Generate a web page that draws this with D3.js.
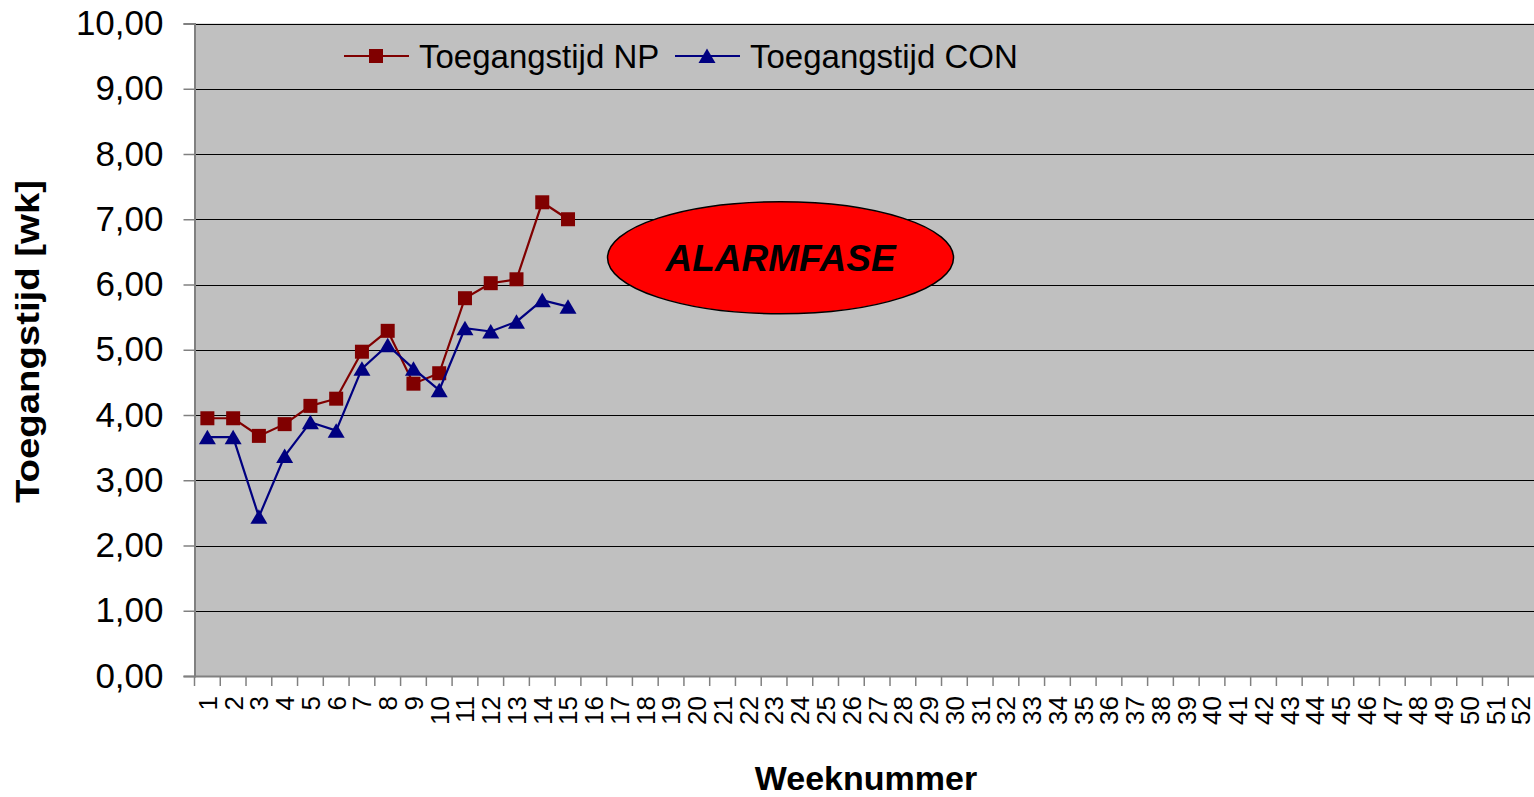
<!DOCTYPE html>
<html>
<head>
<meta charset="utf-8">
<script src="https://cdn.jsdelivr.net/npm/d3@7"></script>
<style>
  body { margin: 0; background: #fff; }
  svg { display: block; font-family: "Liberation Sans", Arial, sans-serif; }
</style>
</head>
<body>
<div class="chart"></div>
<script>
// Toegangstijd per week, NP vs CON

var weeks = d3.range(1, 53).map(String);
var npValues = [3.95, 3.95, 3.68, 3.86, 4.14, 4.25, 4.97, 5.29, 4.48, 4.64, 5.79, 6.02, 6.08, 7.26, 7.00];
var conValues = [3.66, 3.66, 2.44, 3.37, 3.89, 3.76, 4.71, 5.07, 4.71, 4.38, 5.33, 5.28, 5.43, 5.76, 5.66];
var yTicks = [0, 1, 2, 3, 4, 5, 6, 7, 8, 9, 10];
var seriesNames = ["Toegangstijd NP", "Toegangstijd CON"];
var alarmLabel = "ALARMFASE";

var width = 1534,
	height = 797,
	margin = {top: 23.5, right: 0, bottom: 121, left: 194.5};

var svg = d3.select(".chart").append("svg")
	.attr("width", width)
	.attr("height", height);

var x = d3.scaleBand().domain(weeks).range([margin.left, width - margin.right]),
	y = d3.scaleLinear().domain([0, 10]).range([height - margin.bottom, margin.top]);

var nl = d3.formatLocale({decimal: ",", thousands: ".", grouping: [3], currency: ["€", ""]});
var fmt = nl.format(".2f");

// plot background
svg.append("rect")
	.attr("x", margin.left)
	.attr("y", margin.top)
	.attr("width", width - margin.left - margin.right)
	.attr("height", y(0) - margin.top)
	.attr("fill", "#c0c0c0");

// gridlines
svg.append("g")
	.selectAll("line")
	.data(yTicks.slice(1))
	.enter().append("line")
		.attr("x1", margin.left)
		.attr("x2", width)
		.attr("y1", function(d) { return Math.round(y(d)) + 0.5; })
		.attr("y2", function(d) { return Math.round(y(d)) + 0.5; })
		.attr("stroke", "#000")
		.attr("stroke-width", 1.2);

// y axis
var yAxis = svg.append("g")
	.attr("transform", "translate(" + margin.left + ",0)")
	.call(d3.axisLeft(y).tickValues(yTicks).tickFormat(fmt).tickSize(11).tickPadding(20));
yAxis.select(".domain").attr("stroke", "#808080").attr("stroke-width", 2);
yAxis.selectAll(".tick line").attr("stroke", "#808080").attr("stroke-width", 1.5);
yAxis.selectAll("text")
	.style("font-size", "35px")
	.attr("fill", "#000");

// x axis labels
var xAxis = svg.append("g")
	.attr("transform", "translate(0," + y(0) + ")")
	.call(d3.axisBottom(x).tickSize(0).tickSizeOuter(0));
xAxis.select(".domain").attr("stroke", "#808080").attr("stroke-width", 2);
xAxis.selectAll("text")
	.attr("transform", "rotate(-90)")
	.attr("x", -20)
	.attr("y", 0)
	.attr("dy", "0.36em")
	.style("text-anchor", "end")
	.style("font-size", "26px")
	.attr("fill", "#000");

// x tick marks at week boundaries
svg.append("g")
	.selectAll("line")
	.data(weeks)
	.enter().append("line")
		.attr("x1", function(d) { return x(d); })
		.attr("x2", function(d) { return x(d); })
		.attr("y1", y(0))
		.attr("y2", y(0) + 10)
		.attr("stroke", "#808080")
		.attr("stroke-width", 1.5);

// axis titles
svg.append("text")
	.attr("transform", "translate(27,341.5) rotate(-90)")
	.attr("dy", "0.35em")
	.attr("textLength", 323)
	.attr("lengthAdjust", "spacingAndGlyphs")
	.style("text-anchor", "middle")
	.style("font-weight", "bold")
	.style("font-size", "34px")
	.text("Toegangstijd [wk]");

svg.append("text")
	.attr("x", 866)
	.attr("y", 790)
	.style("text-anchor", "middle")
	.style("font-weight", "bold")
	.style("font-size", "34px")
	.text("Weeknummer");

// series
var series = [
	{name: seriesNames[0], values: npValues, color: "#800000", marker: "square"},
	{name: seriesNames[1], values: conValues, color: "#000080", marker: "triangle"}
];

var cx = function(d, i) { return x(weeks[i]) + x.bandwidth() / 2; };
var line = d3.line().x(cx).y(function(d) { return y(d); });

function drawMarker(sel, type, color) {
	if (type == "square") {
		sel.append("rect")
			.attr("x", -7).attr("y", -7)
			.attr("width", 14).attr("height", 14)
			.attr("fill", color);
	} else {
		sel.append("path")
			.attr("d", "M0,-7.5L8.5,7L-8.5,7Z")
			.attr("fill", color);
	}
}

series.forEach(function(s) {
	svg.append("path")
		.datum(s.values)
		.attr("fill", "none")
		.attr("stroke", s.color)
		.attr("stroke-width", 2.2)
		.attr("d", line);

	svg.append("g")
		.selectAll("g")
		.data(s.values)
		.enter().append("g")
			.attr("transform", function(d, i) { return "translate(" + cx(d, i) + "," + y(d) + ")"; })
			.each(function() { drawMarker(d3.select(this), s.marker, s.color); });
});

// legend
var legendPos = [{x: 344, textX: 419}, {x: 675, textX: 750}];
series.forEach(function(s, i) {
	var g = svg.append("g").attr("transform", "translate(0,56)");
	g.append("line")
		.attr("x1", legendPos[i].x)
		.attr("x2", legendPos[i].x + 65)
		.attr("stroke", s.color)
		.attr("stroke-width", 2);
	var m = g.append("g").attr("transform", "translate(" + (legendPos[i].x + 32) + ",0)");
	drawMarker(m, s.marker, s.color);
	g.append("text")
		.attr("x", legendPos[i].textX)
		.attr("dy", "0.36em")
		.style("font-size", "33px")
		.text(s.name);
});

// alarm annotation
var alarm = svg.append("g")
	.attr("transform", "translate(" + (x("23") + x.bandwidth() * 0.75) + "," + y(6.41) + ")");
alarm.append("ellipse")
	.attr("rx", 173)
	.attr("ry", 56)
	.attr("fill", "#ff0000")
	.attr("stroke", "#000")
	.attr("stroke-width", 1.5);
alarm.append("text")
	.attr("y", 13)
	.style("text-anchor", "middle")
	.style("font-weight", "bold")
	.style("font-style", "italic")
	.style("font-size", "37px")
	.text(alarmLabel);
</script>
</body>
</html>
